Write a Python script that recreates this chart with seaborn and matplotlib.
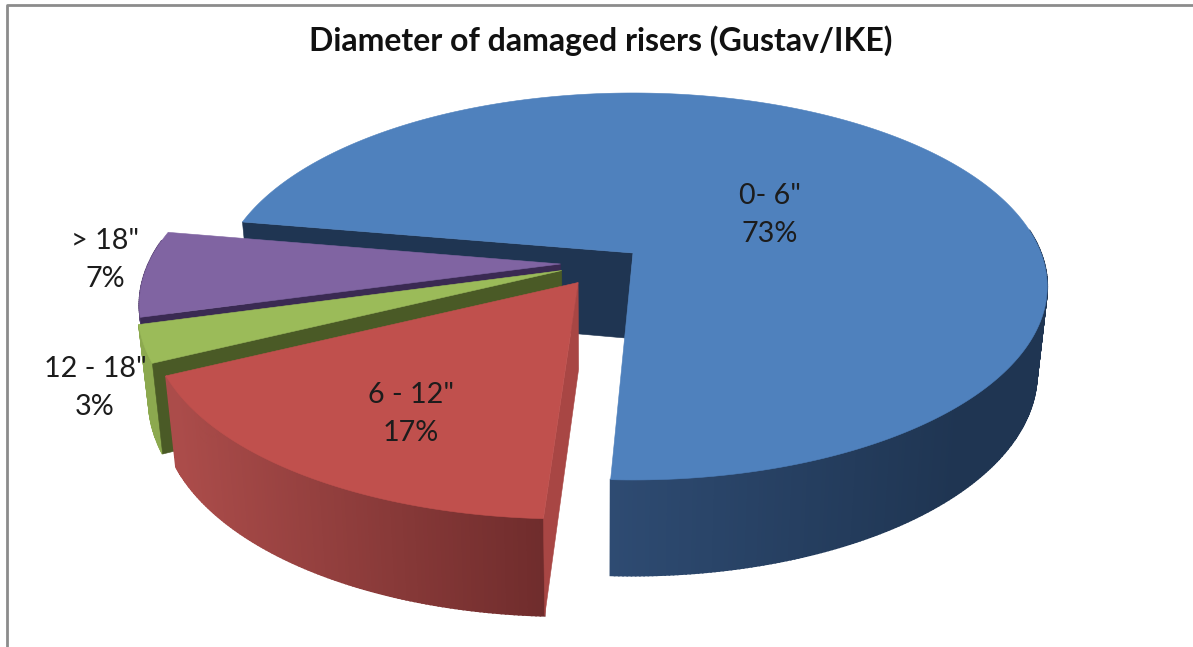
import numpy as np
import pandas as pd
import seaborn as sns
import matplotlib
matplotlib.use("Agg")
import matplotlib.pyplot as plt
from matplotlib.colors import to_rgb

# ---- data ----
categories = ['0- 6"', '6 - 12"', '12 - 18"', '> 18"']
shares = [73, 17, 3, 7]
title_text = "Diameter of damaged risers (Gustav/IKE)"

# ---- styles / geometry ----
top_colors = ["#4f81bd", "#c0504d", "#9bbb59", "#8064a2"]
cut_colors = ["#1f3552", "#a84644", "#4a5a26", "#3a2a52"]
wall_left = ["#2e4b72", "#ab4c4a", "#8ca94f", "#5d4878"]
wall_right = ["#1f3552", "#6f2c2c", "#8ca94f", "#5d4878"]
wall_span = [(610, 960), (175, 545), (140, 180), (130, 180)]
shift_u = [0.0, -0.131, -0.172, -0.176]
shift_v = [0.0, -0.153, -0.092, -0.058]
radius_u = [1.0, 1.0, 1.0, 1.0]
radius_v = [1.0, 0.985, 1.0, 1.0]
apex_dx = [-7, 0, 0, 0]
label_xy = [(770, 215), (411, 414), (95, 388), (105, 260)]

CX, CY, RX, B, K = 633, 253, 408, 187.7, 0.173
VX, F = 600, 0.977
START = 170.2


def project(u, v):
    s = 1 / (1 + K * v)
    return CX + u * RX * s, CY - v * B * s


def drop(x, y, v, extra=0.0):
    return VX + (x - VX) * F + extra, y + 85 - 10.7 * v


sns.set_theme(style="white")
plt.rcParams["font.family"] = ["Lato", "DejaVu Sans"]

df = pd.DataFrame({"category": categories, "share": shares})
df["span"] = df["share"] / df["share"].sum() * 360
df["start"] = START - df["span"].cumsum().shift(fill_value=0)
df["end"] = df["start"] - df["span"]

fig, ax = plt.subplots(figsize=(11.93, 6.47), dpi=100)
fig.subplots_adjust(0, 0, 1, 1)
ax.set_xlim(0, 1193)
ax.set_ylim(647, 0)
ax.axis("off")


def poly(xs, ys, color, z, lw=0.4):
    ax.fill(xs, ys, facecolor=color, edgecolor=color, linewidth=lw, zorder=z)


def draw_slice(i, z):
    row = df.iloc[i]
    th = np.radians(np.linspace(row["start"], row["end"], max(int(row["span"] * 2), 12)))
    u = shift_u[i] + radius_u[i] * np.cos(th)
    v = shift_v[i] + radius_v[i] * np.sin(th)
    x, y = project(u, v)
    # apex
    ax0, ay0 = project(shift_u[i], shift_v[i])
    abx, aby = drop(ax0, ay0, shift_v[i], apex_dx[i])
    # arc wall
    bx, by = drop(x, y, v)
    c0, c1 = np.array(to_rgb(wall_left[i])), np.array(to_rgb(wall_right[i]))
    for j in range(len(th) - 1):
        if np.sin(th[j]) > 0.12 and np.sin(th[j + 1]) > 0.12:
            continue
        t = np.clip((0.5 * (x[j] + x[j + 1]) - wall_span[i][0]) / (wall_span[i][1] - wall_span[i][0]), 0, 1)
        col = tuple(c0 + (c1 - c0) * t)
        poly([x[j], x[j + 1], bx[j + 1], bx[j]], [y[j], y[j + 1], by[j + 1], by[j]], col, z, lw=1.2)
    # cut wall on the start edge
    poly([ax0, x[0], bx[0], abx], [ay0, y[0], by[0], aby], cut_colors[i], z + 0.1)
    # top face
    poly(np.r_[ax0, x], np.r_[ay0, y], top_colors[i], z + 0.2)


for z, idx in enumerate([0, 3, 2, 1]):
    draw_slice(idx, z + 1)

for i, (lx, ly) in enumerate(label_xy):
    ax.text(lx, ly, f"{categories[i]}\n{shares[i]}%", ha="center", va="center",
            fontsize=20.7, color="#1c1c1c", linespacing=1.58, zorder=10)

ax.text(601, 41, title_text, ha="center", va="center", fontsize=23,
        fontweight="bold", color="#111111", zorder=10)

# chart frame
ax.plot([7, 7, 1193], [647, 5, 5], color="#8c8c8c", linewidth=2, zorder=0)

fig.savefig("out.png", dpi=100)
